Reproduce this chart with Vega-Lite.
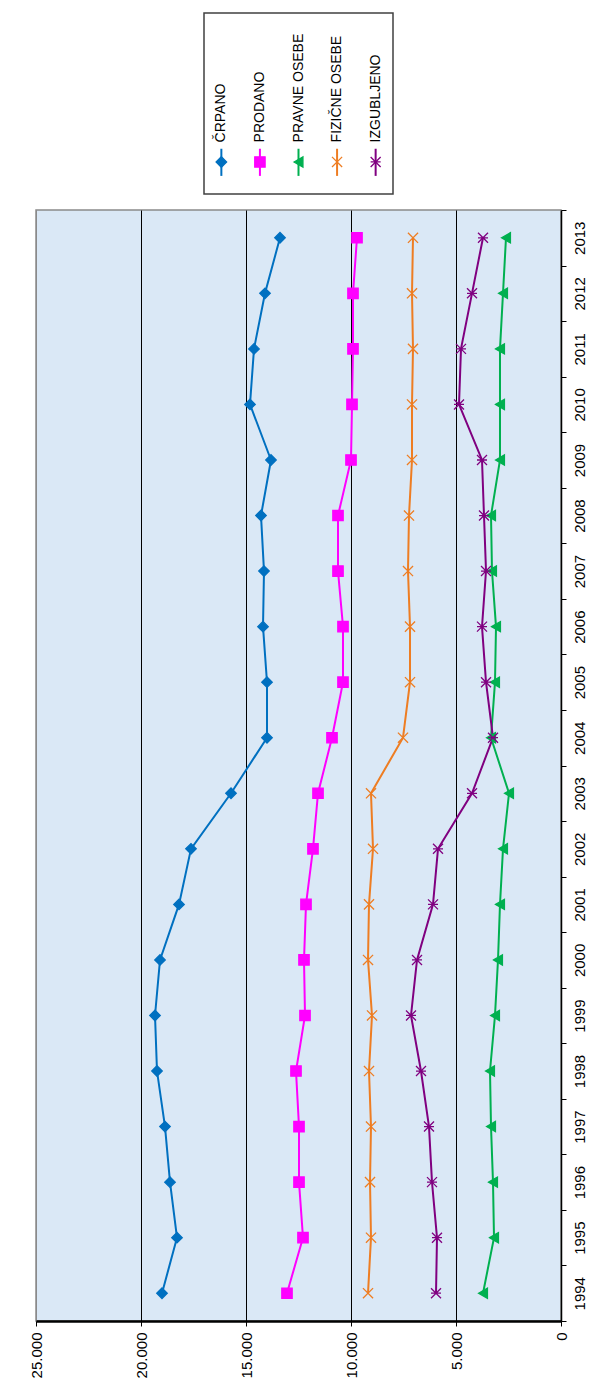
{
  "$schema": "https://vega.github.io/schema/vega-lite/v6.json",
  "padding": {"left": 28, "top": 12, "right": 5, "bottom": 5},
  "background": "white",
  "bounds": "flush",
  "center": true,
  "spacing": 16,
  "config": {"font": "Liberation Sans", "view": {"stroke": null}},
  "datasets": {
    "legend": [
      {"series": "ČRPANO"},
      {"series": "PRODANO"},
      {"series": "PRAVNE OSEBE"},
      {"series": "FIZIČNE OSEBE"},
      {"series": "IZGUBLJENO"}
    ],
    "main": [
      {"year": 1994, "series": "ČRPANO", "value": 19000},
      {"year": 1995, "series": "ČRPANO", "value": 18286},
      {"year": 1996, "series": "ČRPANO", "value": 18619},
      {"year": 1997, "series": "ČRPANO", "value": 18857},
      {"year": 1998, "series": "ČRPANO", "value": 19238},
      {"year": 1999, "series": "ČRPANO", "value": 19333},
      {"year": 2000, "series": "ČRPANO", "value": 19095},
      {"year": 2001, "series": "ČRPANO", "value": 18190},
      {"year": 2002, "series": "ČRPANO", "value": 17619},
      {"year": 2003, "series": "ČRPANO", "value": 15714},
      {"year": 2004, "series": "ČRPANO", "value": 14000},
      {"year": 2005, "series": "ČRPANO", "value": 14000},
      {"year": 2006, "series": "ČRPANO", "value": 14190},
      {"year": 2007, "series": "ČRPANO", "value": 14143},
      {"year": 2008, "series": "ČRPANO", "value": 14286},
      {"year": 2009, "series": "ČRPANO", "value": 13810},
      {"year": 2010, "series": "ČRPANO", "value": 14810},
      {"year": 2011, "series": "ČRPANO", "value": 14619},
      {"year": 2012, "series": "ČRPANO", "value": 14095},
      {"year": 2013, "series": "ČRPANO", "value": 13381},
      {"year": 1994, "series": "PRODANO", "value": 13048},
      {"year": 1995, "series": "PRODANO", "value": 12286},
      {"year": 1996, "series": "PRODANO", "value": 12476},
      {"year": 1997, "series": "PRODANO", "value": 12476},
      {"year": 1998, "series": "PRODANO", "value": 12619},
      {"year": 1999, "series": "PRODANO", "value": 12190},
      {"year": 2000, "series": "PRODANO", "value": 12238},
      {"year": 2001, "series": "PRODANO", "value": 12143},
      {"year": 2002, "series": "PRODANO", "value": 11810},
      {"year": 2003, "series": "PRODANO", "value": 11571},
      {"year": 2004, "series": "PRODANO", "value": 10905},
      {"year": 2005, "series": "PRODANO", "value": 10381},
      {"year": 2006, "series": "PRODANO", "value": 10381},
      {"year": 2007, "series": "PRODANO", "value": 10619},
      {"year": 2008, "series": "PRODANO", "value": 10619},
      {"year": 2009, "series": "PRODANO", "value": 10000},
      {"year": 2010, "series": "PRODANO", "value": 9952},
      {"year": 2011, "series": "PRODANO", "value": 9905},
      {"year": 2012, "series": "PRODANO", "value": 9905},
      {"year": 2013, "series": "PRODANO", "value": 9714},
      {"year": 1994, "series": "PRAVNE OSEBE", "value": 3714},
      {"year": 1995, "series": "PRAVNE OSEBE", "value": 3190},
      {"year": 1996, "series": "PRAVNE OSEBE", "value": 3238},
      {"year": 1997, "series": "PRAVNE OSEBE", "value": 3333},
      {"year": 1998, "series": "PRAVNE OSEBE", "value": 3381},
      {"year": 1999, "series": "PRAVNE OSEBE", "value": 3143},
      {"year": 2000, "series": "PRAVNE OSEBE", "value": 3000},
      {"year": 2001, "series": "PRAVNE OSEBE", "value": 2905},
      {"year": 2002, "series": "PRAVNE OSEBE", "value": 2762},
      {"year": 2003, "series": "PRAVNE OSEBE", "value": 2476},
      {"year": 2004, "series": "PRAVNE OSEBE", "value": 3333},
      {"year": 2005, "series": "PRAVNE OSEBE", "value": 3143},
      {"year": 2006, "series": "PRAVNE OSEBE", "value": 3095},
      {"year": 2007, "series": "PRAVNE OSEBE", "value": 3286},
      {"year": 2008, "series": "PRAVNE OSEBE", "value": 3333},
      {"year": 2009, "series": "PRAVNE OSEBE", "value": 2905},
      {"year": 2010, "series": "PRAVNE OSEBE", "value": 2905},
      {"year": 2011, "series": "PRAVNE OSEBE", "value": 2905},
      {"year": 2012, "series": "PRAVNE OSEBE", "value": 2762},
      {"year": 2013, "series": "PRAVNE OSEBE", "value": 2619},
      {"year": 1994, "series": "FIZIČNE OSEBE", "value": 9190},
      {"year": 1995, "series": "FIZIČNE OSEBE", "value": 9048},
      {"year": 1996, "series": "FIZIČNE OSEBE", "value": 9095},
      {"year": 1997, "series": "FIZIČNE OSEBE", "value": 9048},
      {"year": 1998, "series": "FIZIČNE OSEBE", "value": 9143},
      {"year": 1999, "series": "FIZIČNE OSEBE", "value": 9000},
      {"year": 2000, "series": "FIZIČNE OSEBE", "value": 9190},
      {"year": 2001, "series": "FIZIČNE OSEBE", "value": 9143},
      {"year": 2002, "series": "FIZIČNE OSEBE", "value": 8952},
      {"year": 2003, "series": "FIZIČNE OSEBE", "value": 9048},
      {"year": 2004, "series": "FIZIČNE OSEBE", "value": 7524},
      {"year": 2005, "series": "FIZIČNE OSEBE", "value": 7190},
      {"year": 2006, "series": "FIZIČNE OSEBE", "value": 7190},
      {"year": 2007, "series": "FIZIČNE OSEBE", "value": 7286},
      {"year": 2008, "series": "FIZIČNE OSEBE", "value": 7238},
      {"year": 2009, "series": "FIZIČNE OSEBE", "value": 7095},
      {"year": 2010, "series": "FIZIČNE OSEBE", "value": 7095},
      {"year": 2011, "series": "FIZIČNE OSEBE", "value": 7048},
      {"year": 2012, "series": "FIZIČNE OSEBE", "value": 7095},
      {"year": 2013, "series": "FIZIČNE OSEBE", "value": 7048},
      {"year": 1994, "series": "IZGUBLJENO", "value": 5952},
      {"year": 1995, "series": "IZGUBLJENO", "value": 5905},
      {"year": 1996, "series": "IZGUBLJENO", "value": 6143},
      {"year": 1997, "series": "IZGUBLJENO", "value": 6286},
      {"year": 1998, "series": "IZGUBLJENO", "value": 6667},
      {"year": 1999, "series": "IZGUBLJENO", "value": 7143},
      {"year": 2000, "series": "IZGUBLJENO", "value": 6857},
      {"year": 2001, "series": "IZGUBLJENO", "value": 6095},
      {"year": 2002, "series": "IZGUBLJENO", "value": 5857},
      {"year": 2003, "series": "IZGUBLJENO", "value": 4238},
      {"year": 2004, "series": "IZGUBLJENO", "value": 3238},
      {"year": 2005, "series": "IZGUBLJENO", "value": 3571},
      {"year": 2006, "series": "IZGUBLJENO", "value": 3762},
      {"year": 2007, "series": "IZGUBLJENO", "value": 3571},
      {"year": 2008, "series": "IZGUBLJENO", "value": 3667},
      {"year": 2009, "series": "IZGUBLJENO", "value": 3762},
      {"year": 2010, "series": "IZGUBLJENO", "value": 4857},
      {"year": 2011, "series": "IZGUBLJENO", "value": 4762},
      {"year": 2012, "series": "IZGUBLJENO", "value": 4238},
      {"year": 2013, "series": "IZGUBLJENO", "value": 3714}
    ]
  },
  "vconcat": [
    {
      "width": 189,
      "height": 181,
      "view": {"stroke": "#404040", "strokeWidth": 1.5, "fill": "white"},
      "data": {"name": "legend"},
      "encoding": {
        "x": {"field": "series", "type": "nominal", "axis": null,
          "scale": {"type": "point", "padding": 0.45, "domain": ["ČRPANO", "PRODANO", "PRAVNE OSEBE", "FIZIČNE OSEBE", "IZGUBLJENO"]}},
        "color": {"field": "series", "type": "nominal", "legend": null,
          "scale": {"domain": ["ČRPANO", "PRODANO", "PRAVNE OSEBE", "FIZIČNE OSEBE", "IZGUBLJENO"], "range": ["#0070C0", "#FF00FF", "#00B050", "#EE7D22", "#800080"]}}
      },
      "layer": [
        {
          "mark": {"type": "rule", "strokeWidth": 2},
          "encoding": {
            "y": {"datum": 0.25, "type": "quantitative", "scale": {"domain": [0, 1]}, "axis": null},
            "y2": {"datum": 0.1}
          }
        },
        {
          "mark": {"type": "point", "filled": true, "strokeWidth": 1.3, "opacity": 1},
          "encoding": {
            "y": {"datum": 0.177, "type": "quantitative"},
            "shape": {"field": "series", "type": "nominal", "legend": null,
              "scale": {"domain": ["ČRPANO", "PRODANO", "PRAVNE OSEBE", "FIZIČNE OSEBE", "IZGUBLJENO"], "range": ["diamond", "square", "triangle-left", "M-1,-1L1,1M-1,1L1,-1", "M-1,-1L1,1M-1,1L1,-1M-1,0L1,0"]}},
            "size": {"field": "series", "type": "nominal", "legend": null,
              "scale": {"domain": ["ČRPANO", "PRODANO", "PRAVNE OSEBE", "FIZIČNE OSEBE", "IZGUBLJENO"], "range": [110, 100, 120, 160, 140]}},
            "stroke": {"field": "series", "type": "nominal", "legend": null,
              "scale": {"domain": ["ČRPANO", "PRODANO", "PRAVNE OSEBE", "FIZIČNE OSEBE", "IZGUBLJENO"], "range": ["#0070C0", "#FF00FF", "#00B050", "#EE7D22", "#800080"]}}
          }
        },
        {
          "mark": {"type": "text", "angle": 270, "align": "left", "baseline": "middle", "fontSize": 14, "color": "black"},
          "encoding": {
            "y": {"datum": 0.285, "type": "quantitative"},
            "text": {"field": "series"},
            "color": {"value": "black"}
          }
        }
      ]
    },
    {
      "width": 525,
      "height": 1111,
      "view": {"fill": "#DAE8F6", "stroke": "#8A8A8A", "strokeWidth": 1.5},
      "data": {"name": "main"},
      "encoding": {
        "y": {"field": "year", "type": "ordinal", "sort": "descending",
          "scale": {"type": "band", "paddingInner": 0, "paddingOuter": 0},
          "axis": {"orient": "right", "title": null, "labelAngle": 270, "labelAlign": "center", "labelBaseline": "top",
            "tickBand": "extent", "domainColor": "black", "domainWidth": 1.5, "tickColor": "black", "tickSize": 5,
            "labelFontSize": 15, "labelColor": "black", "labelPadding": 6, "grid": false}},
        "x": {"field": "value", "type": "quantitative",
          "scale": {"domain": [0, 25000], "reverse": true, "nice": false},
          "axis": {"orient": "bottom", "title": null, "values": [0, 5000, 10000, 15000, 20000, 25000],
            "labelAngle": 270, "labelAlign": "right", "labelBaseline": "middle",
            "labelExpr": "replace(format(datum.value, ','), ',', '.')",
            "grid": true, "gridColor": {"condition": {"test": "datum.value == 25000 || datum.value == 0", "value": "#8A8A8A"}, "value": "black"}, "gridWidth": 1, "gridOpacity": 1,
            "domainColor": "black", "domainWidth": 2.5, "tickColor": "black", "tickSize": 5,
            "labelFontSize": 15, "labelColor": "black", "labelPadding": 6}},
        "color": {"field": "series", "type": "nominal", "legend": null,
          "scale": {"domain": ["ČRPANO", "PRODANO", "PRAVNE OSEBE", "FIZIČNE OSEBE", "IZGUBLJENO"], "range": ["#0070C0", "#FF00FF", "#00B050", "#EE7D22", "#800080"]}}
      },
      "layer": [
        {
          "mark": {"type": "line", "strokeWidth": 2}
        },
        {
          "mark": {"type": "point", "filled": true, "strokeWidth": 1.3, "opacity": 1},
          "encoding": {
            "shape": {"field": "series", "type": "nominal", "legend": null,
              "scale": {"domain": ["ČRPANO", "PRODANO", "PRAVNE OSEBE", "FIZIČNE OSEBE", "IZGUBLJENO"], "range": ["diamond", "square", "triangle-left", "M-1,-1L1,1M-1,1L1,-1", "M-1,-1L1,1M-1,1L1,-1M-1,0L1,0"]}},
            "size": {"field": "series", "type": "nominal", "legend": null,
              "scale": {"domain": ["ČRPANO", "PRODANO", "PRAVNE OSEBE", "FIZIČNE OSEBE", "IZGUBLJENO"], "range": [110, 100, 120, 160, 140]}},
            "stroke": {"field": "series", "type": "nominal", "legend": null,
              "scale": {"domain": ["ČRPANO", "PRODANO", "PRAVNE OSEBE", "FIZIČNE OSEBE", "IZGUBLJENO"], "range": ["#0070C0", "#FF00FF", "#00B050", "#EE7D22", "#800080"]}}
          }
        }
      ]
    }
  ]
}
